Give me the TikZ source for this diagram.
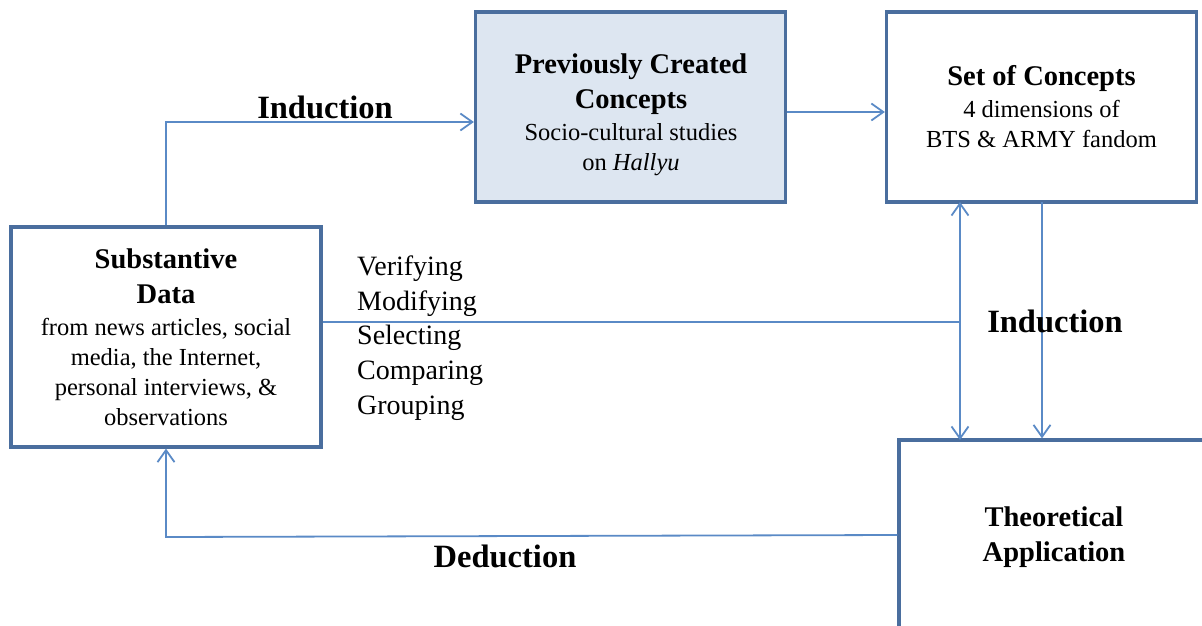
\documentclass[tikz,border=0pt]{standalone}
\usepackage{fontspec}
\setmainfont{Liberation Serif}
\usetikzlibrary{arrows.meta}
\definecolor{boxc}{HTML}{4A6E9E}
\definecolor{linec}{HTML}{5A8AC6}
\definecolor{fillc}{HTML}{DDE6F1}
\tikzset{
  box/.style={draw=boxc, line width=3.2pt, minimum width=310pt, minimum height=190pt, inner sep=0pt, align=center, fill=white, font=\fontsize{24.5}{30}\selectfont},
  boxtext/.style={inner sep=0pt, align=center, font=\fontsize{24.5}{30}\selectfont},
  conn/.style={draw=linec, line width=1.8pt},
  arr/.style={-{Straight Barb[length=12pt,width=17pt,line width=1.8pt]}},
  darr/.style={{Straight Barb[length=12pt,width=17pt,line width=1.8pt]}-{Straight Barb[length=12pt,width=17pt,line width=1.8pt]}},
  bigl/.style={font=\fontsize{32.5}{38}\selectfont\bfseries},
  listtxt/.style={font=\fontsize{28}{34.8}\selectfont, align=left},
}
\newcommand{\ttl}{\fontsize{28.5}{30}\selectfont\bfseries}
\newcommand{\reg}{\fontsize{24.5}{30}\selectfont\mdseries}
\begin{document}
\begin{tikzpicture}[x=1pt,y=-1pt]
\useasboundingbox (0,0) rectangle (1202,626);
\clip (0,0) rectangle (1202,626);
% boxes
\node[box, minimum height=220pt] (sub) at (166,337) {\ttl Substantive\\[5pt]\ttl Data\\[2pt]\reg from news articles, social\\\reg media, the Internet,\\\reg personal interviews, \&\\\reg observations};
\node[box, fill=fillc] (prev) at (630.5,107) {};
\node[boxtext] (prevt) at (631,115) {\ttl Previously Created\\[5pt]\ttl Concepts\\[2pt]\reg Socio-cultural studies\\\reg on \textit{Hallyu}};
\node[box] (set) at (1041.5,107) {\ttl Set of Concepts\\[2pt]\reg 4 dimensions of\\\reg BTS \& ARMY fandom};
\node[box] (theo) at (1054,535) {};
\node[boxtext] (theot) at (1054,537) {\ttl Theoretical\\[5pt]\ttl Application};
% coordinates
\coordinate (topbend) at (166,122);
\coordinate (junc) at (960,322);
\coordinate (vtop) at (960,202);
\coordinate (vbot) at (960,440);
\coordinate (dbend) at (166,537);
\coordinate (rtop) at (1042,202);
% connectors
\draw[conn, arr] (sub.north) -- (topbend) -- (topbend -| prev.west);
\draw[conn, arr] (prev.east |- 0,112) -- (set.west |- 0,112);
\draw[conn] (sub.east |- junc) -- (junc);
\draw[conn, darr] (vtop) -- (vbot);
\draw[conn, arr] (rtop) -- (rtop |- theo.north);
\draw[conn, arr] (theo.west) -- (dbend) -- (sub.south);
% labels
\node[bigl] (ind1) at (325,107) {Induction};
\node[bigl] (ind2) at (1055,321) {Induction};
\node[bigl] (ded) at (505,556) {Deduction};
\node[listtxt, anchor=west, inner sep=0pt] (list) at (357,338) {Verifying\\Modifying\\Selecting\\Comparing\\Grouping};
\end{tikzpicture}
\end{document}
